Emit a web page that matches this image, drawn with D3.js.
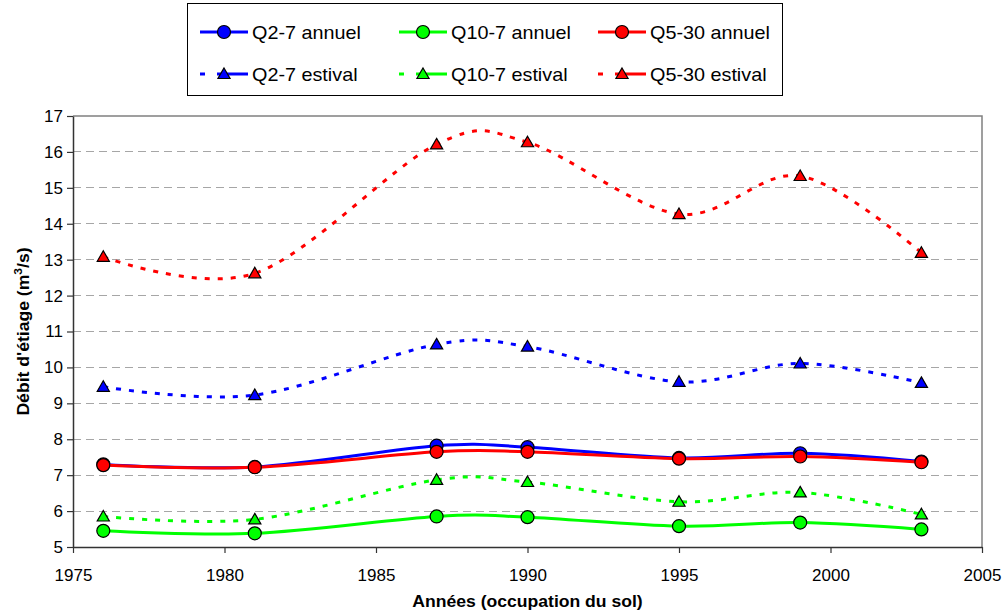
<!DOCTYPE html>
<html>
<head>
<meta charset="utf-8">
<script src="https://cdn.jsdelivr.net/npm/d3@7"></script>
<style>
  html, body { margin: 0; padding: 0; background: #fff; }
  svg { display: block; font-family: "Liberation Sans", Arial, sans-serif; }
</style>
</head>
<body>
<svg id="chart" width="1005" height="613"></svg>
<script>
const years = [1976, 1981, 1987, 1990, 1995, 1999, 2003]

const q27Annuel = [7.30, 7.23, 7.82, 7.78, 7.48, 7.61, 7.38]
const q107Annuel = [5.45, 5.38, 5.85, 5.83, 5.58, 5.68, 5.49]
const q530Annuel = [7.28, 7.22, 7.65, 7.65, 7.46, 7.52, 7.36]
const q27Estival = [9.46, 9.23, 10.64, 10.58, 9.60, 10.11, 9.57]
const q107Estival = [5.85, 5.77, 6.87, 6.81, 6.26, 6.52, 5.91]
const q530Estival = [13.08, 12.62, 16.21, 16.27, 14.27, 15.33, 13.19]

const xTicks = [1975, 1980, 1985, 1990, 1995, 2000, 2005]
const yTicks = [5, 6, 7, 8, 9, 10, 11, 12, 13, 14, 15, 16, 17]

const series = [
  { name: 'Q2-7 annuel', values: q27Annuel, color: '#0000ff', marker: 'circle', dashed: false },
  { name: 'Q10-7 annuel', values: q107Annuel, color: '#00ff00', marker: 'circle', dashed: false },
  { name: 'Q5-30 annuel', values: q530Annuel, color: '#ff0000', marker: 'circle', dashed: false },
  { name: 'Q2-7 estival', values: q27Estival, color: '#0000ff', marker: 'triangle', dashed: true },
  { name: 'Q10-7 estival', values: q107Estival, color: '#00ff00', marker: 'triangle', dashed: true },
  { name: 'Q5-30 estival', values: q530Estival, color: '#ff0000', marker: 'triangle', dashed: true }
]

const plot = { left: 73, right: 982, top: 116, bottom: 547 }
const STRETCH = 1.1 // le texte de l'image d'origine est un peu étiré en largeur

const svg = d3.select('#chart')

const x = d3.scaleLinear().domain([1975, 2005]).range([plot.left, plot.right])
const y = d3.scaleLinear().domain([5, 17]).range([plot.bottom, plot.top])

// grille horizontale
svg.append('g')
  .selectAll('line')
  .data(yTicks.filter(t => t > 5 && t < 17))
  .join('line')
  .attr('x1', plot.left)
  .attr('x2', plot.right)
  .attr('y1', d => y(d))
  .attr('y2', d => y(d))
  .attr('stroke', '#a6a6a6')
  .attr('stroke-width', 1)
  .attr('stroke-dasharray', '8,5')
  .attr('shape-rendering', 'crispEdges')

// cadre haut / droite
svg.append('path')
  .attr('d', `M${plot.left},${plot.top}H${plot.right}V${plot.bottom}`)
  .attr('fill', 'none')
  .attr('stroke', '#808080')
  .attr('stroke-width', 1.5)

// axes
const xAxis = svg.append('g')
  .attr('transform', `translate(0,${plot.bottom})`)
  .call(d3.axisBottom(x).tickValues(xTicks).tickFormat(d3.format('d')).tickSize(6).tickSizeOuter(0))
const yAxis = svg.append('g')
  .attr('transform', `translate(${plot.left},0)`)
  .call(d3.axisLeft(y).tickValues(yTicks).tickSize(6).tickSizeOuter(0))

;[xAxis, yAxis].forEach(g => {
  g.select('.domain').attr('stroke', '#333').attr('stroke-width', 1.5)
  g.selectAll('.tick line').attr('stroke', '#333').attr('stroke-width', 1.2)
  g.selectAll('.tick text').attr('fill', '#000').style('font-size', '17px')
})
xAxis.selectAll('.tick text').attr('y', 34).attr('dy', 0)
yAxis.selectAll('.tick text').attr('x', -10)

// titres
svg.append('text')
  .attr('transform', `translate(${(plot.left + plot.right) / 2},607) scale(${STRETCH},1)`)
  .attr('text-anchor', 'middle')
  .style('font-size', '16px')
  .style('font-weight', 'bold')
  .text('Années (occupation du sol)')

const yTitle = svg.append('text')
  .attr('transform', `translate(29,${(plot.top + plot.bottom) / 2}) rotate(-90) scale(${STRETCH},1)`)
  .attr('text-anchor', 'middle')
  .style('font-size', '16px')
  .style('font-weight', 'bold')
yTitle.append('tspan').text('Débit d\'étiage (m')
yTitle.append('tspan').attr('dy', -7).style('font-size', '11px').text('3')
yTitle.append('tspan').attr('dy', 7).text('/s)')

// courbes lissées
const line = d3.line()
  .x((d, i) => x(years[i]))
  .y(d => y(d))
  .curve(d3.curveCatmullRom.alpha(0))

const tri = d3.symbol().type(d3.symbolTriangle).size(64)

function drawMarker(g, s, cx, cy) {
  if (s.marker === 'circle') {
    g.append('circle')
      .attr('cx', cx).attr('cy', cy).attr('r', 6.5)
      .attr('fill', s.color).attr('stroke', '#000').attr('stroke-width', 1.2)
  } else {
    g.append('path')
      .attr('d', tri())
      .attr('transform', `translate(${cx},${cy + 1})`)
      .attr('fill', s.color).attr('stroke', '#000').attr('stroke-width', 1.2)
  }
}

series.forEach(s => {
  const g = svg.append('g')
  g.append('path')
    .datum(s.values)
    .attr('d', line)
    .attr('fill', 'none')
    .attr('stroke', s.color)
    .attr('stroke-width', 3)
    .attr('stroke-dasharray', s.dashed ? '5,8' : null)
  s.values.forEach((v, i) => drawMarker(g, s, x(years[i]), y(v)))
})

// légende
const legend = svg.append('g')
legend.append('rect')
  .attr('x', 187.5).attr('y', 3.5)
  .attr('width', 595).attr('height', 92)
  .attr('fill', '#fff').attr('stroke', '#000').attr('stroke-width', 1)

const colX = [200, 399, 598]
const rowY = [32, 74]
series.forEach((s, i) => {
  const lx = colX[i % 3]
  const ly = rowY[Math.floor(i / 3)]
  const item = legend.append('g')
  item.append('line')
    .attr('x1', lx).attr('x2', lx + 48).attr('y1', ly).attr('y2', ly)
    .attr('stroke', s.color).attr('stroke-width', 3)
    .attr('stroke-dasharray', s.dashed ? '5,12,31,12' : null)
  drawMarker(item, s, lx + 24, ly)
  item.append('text')
    .attr('transform', `translate(${lx + 52},${ly + 6.5}) scale(${STRETCH},1)`)
    .style('font-size', '18px')
    .text(s.name)
})
</script>
</body>
</html>
